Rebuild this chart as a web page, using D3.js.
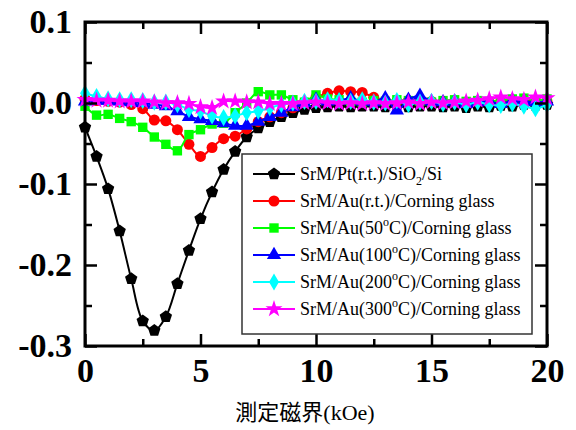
<!DOCTYPE html>
<html>
<head>
<meta charset="utf-8">
<script src="https://cdn.jsdelivr.net/npm/d3@7"></script>
<style>
  body { margin: 0; background: #fff; }
  svg text { font-family: "Liberation Serif", "Times New Roman", serif; }
</style>
</head>
<body>
<script>
// measured field (kOe)
var fieldK = [0, 0.5, 1, 1.5, 2, 2.5, 3, 3.5, 4, 4.5, 5, 5.5, 6, 6.5, 7, 7.5, 8, 8.5, 9, 9.5,
              10, 10.5, 11, 11.5, 12, 12.5, 13, 13.5, 14, 14.5, 15, 15.5, 16, 16.5, 17, 17.5, 18, 18.5, 19, 19.5, 20];

var ptRT = [-0.030, -0.066, -0.106, -0.158, -0.217, -0.269, -0.281, -0.264, -0.223, -0.182,
            -0.143, -0.110, -0.082, -0.060, -0.042, -0.031, -0.023, -0.017, -0.012, -0.008,
            -0.006, -0.005, -0.004, -0.005, -0.004, -0.004, -0.005, -0.004, -0.005, -0.004,
            -0.004, -0.005, -0.004, -0.006, -0.004, -0.005, -0.003, -0.004, -0.002, -0.003, -0.002];
var auRT = [0.005, 0.003, 0.002, 0.001, -0.002, -0.007, -0.021, -0.022, -0.033, -0.051,
            -0.066, -0.055, -0.044, -0.041, -0.032, -0.023, -0.017, -0.012, -0.006, 0.001,
            0.007, 0.012, 0.015, 0.014, 0.013, 0.007, 0.003, 0.002, 0.003, 0.002,
            0.002, 0.001, 0.002, 0.001, 0.002, 0.001, 0.002, 0.003, 0.002, 0.003, 0.002];
var au50 = [-0.004, -0.015, -0.014, -0.019, -0.023, -0.030, -0.042, -0.051, -0.059, -0.039,
            -0.033, -0.026, -0.025, -0.012, 0.000, 0.014, 0.010, 0.010, 0.004, 0.001,
            0.010, 0.005, 0.004, 0.002, 0.001, 0.003, 0.002, 0.004, 0.003, 0.002,
            0.001, 0.003, 0.004, 0.002, 0.003, 0.002, 0.003, 0.005, 0.006, 0.003, 0.005];
var au100 = [0.002, 0.003, 0.003, 0.002, 0.001, 0.000, -0.002, -0.004, -0.010, -0.017,
             -0.020, -0.022, -0.025, -0.028, -0.028, -0.023, -0.017, -0.012, -0.005, 0.000,
             0.004, 0.002, 0.003, 0.006, 0.002, 0.001, 0.006, -0.009, 0.004, 0.009,
             0.002, 0.001, 0.002, -0.001, 0.001, 0.002, -0.001, 0.003, 0.002, 0.001, 0.002];
var au200 = [0.012, 0.008, 0.005, 0.004, 0.004, 0.003, 0.001, 0.001, -0.002, -0.008,
             -0.010, -0.016, -0.018, -0.016, -0.012, -0.010, -0.006, -0.002, 0.000, 0.002,
             0.002, 0.004, 0.003, 0.002, 0.004, 0.001, 0.000, 0.003, -0.002, 0.001,
             0.002, -0.001, 0.001, -0.002, 0.001, -0.002, -0.003, -0.001, -0.004, -0.007, -0.002];
var au300 = [0.004, 0.003, 0.003, 0.002, 0.002, 0.002, 0.001, 0.000, 0.000, -0.001,
             -0.005, -0.006, 0.002, 0.002, 0.001, 0.001, -0.001, -0.001, -0.001, 0.000,
             0.001, 0.000, -0.001, 0.000, -0.001, 0.000, -0.001, 0.000, 0.001, -0.001,
             0.001, 0.000, 0.001, 0.002, 0.003, 0.005, 0.007, 0.005, 0.004, 0.007, 0.006];

var seriesNames = ["SrM/Pt(r.t.)/SiO_2/Si", "SrM/Au(r.t.)/Corning glass", "SrM/Au(50^oC)/Corning glass",
                   "SrM/Au(100^oC)/Corning glass", "SrM/Au(200^oC)/Corning glass", "SrM/Au(300^oC)/Corning glass"];
var xTicks = [0, 5, 10, 15, 20];
var yTicks = [-0.3, -0.2, -0.1, 0.0, 0.1];

(function() {
    var allSeries = [ptRT, auRT, au50, au100, au200, au300];
    var colors = ["#000000", "#ff0000", "#00ff00", "#0000ff", "#00ffff", "#ff00ff"];

    var width = 576, height = 430,
        padL = 85, padR = 547, padT = 22, padB = 346;

    var x = d3.scaleLinear().domain([0, 20]).range([padL, padR]);
    var y = d3.scaleLinear().domain([-0.3, 0.1]).range([padB, padT]);

    var svg = d3.select("body").append("svg")
                .attr("width", width)
                .attr("height", height);

    // pentagon symbol, not in d3
    var pentagon = {
        draw: function(ctx, size) {
            var r = Math.sqrt(size / 2.378);
            for (var i = 0; i < 5; i++) {
                var a = -Math.PI / 2 + i * 2 * Math.PI / 5;
                if (i === 0) ctx.moveTo(r * Math.cos(a), r * Math.sin(a));
                else ctx.lineTo(r * Math.cos(a), r * Math.sin(a));
            }
            ctx.closePath();
        }
    };
    var symbols = [
        d3.symbol().type(pentagon).size(100),
        d3.symbol().type(d3.symbolCircle).size(95),
        d3.symbol().type(d3.symbolSquare).size(88),
        d3.symbol().type(d3.symbolTriangle).size(88),
        d3.symbol().type(d3.symbolDiamond).size(85),
        d3.symbol().type(d3.symbolStar).size(90)
    ];

    var line = d3.line()
                 .x(function(d, i) { return x(fieldK[i]); })
                 .y(function(d) { return y(d); })
                 .curve(d3.curveCatmullRom);

    allSeries.forEach(function(vals, s) {
        var g = svg.append("g").attr("class", "series");
        g.append("path")
         .attr("d", line(vals))
         .attr("fill", "none")
         .attr("stroke", colors[s])
         .attr("stroke-width", 2);
        g.selectAll(".pt")
         .data(vals)
         .enter()
         .append("path")
         .attr("class", "pt")
         .attr("transform", function(d, i) { return "translate(" + x(fieldK[i]) + "," + y(d) + ")"; })
         .attr("d", symbols[s])
         .attr("fill", colors[s]);
    });

    // axes: inward ticks on all four sides
    var minorX = [2.5, 7.5, 12.5, 17.5],
        minorY = [-0.25, -0.15, -0.05, 0.05];
    var fmt = function(d) { return d.toFixed(1); };

    function styleAxis(g) {
        g.select(".domain").remove();
        g.selectAll(".tick line").attr("stroke", "#000").attr("stroke-width", 2.5);
        g.selectAll(".tick text")
         .attr("fill", "#000")
         .style("font-family", "'Liberation Serif', serif")
         .style("font-weight", "bold")
         .style("font-size", "34px");
    }

    svg.append("g").attr("transform", "translate(0," + padB + ")")
       .call(d3.axisBottom(x).tickValues(xTicks).tickSize(-12).tickPadding(12)).call(styleAxis);
    svg.append("g").attr("transform", "translate(0," + padB + ")")
       .call(d3.axisBottom(x).tickValues(minorX).tickSize(-7).tickFormat("")).call(styleAxis);
    svg.append("g").attr("transform", "translate(0," + padT + ")")
       .call(d3.axisTop(x).tickValues(xTicks).tickSize(-12).tickFormat("")).call(styleAxis);
    svg.append("g").attr("transform", "translate(0," + padT + ")")
       .call(d3.axisTop(x).tickValues(minorX).tickSize(-7).tickFormat("")).call(styleAxis);
    svg.append("g").attr("transform", "translate(" + padL + ",0)")
       .call(d3.axisLeft(y).tickValues(yTicks).tickSize(-12).tickPadding(13).tickFormat(fmt)).call(styleAxis);
    svg.append("g").attr("transform", "translate(" + padL + ",0)")
       .call(d3.axisLeft(y).tickValues(minorY).tickSize(-7).tickFormat("")).call(styleAxis);
    svg.append("g").attr("transform", "translate(" + padR + ",0)")
       .call(d3.axisRight(y).tickValues(yTicks).tickSize(-12).tickFormat("")).call(styleAxis);
    svg.append("g").attr("transform", "translate(" + padR + ",0)")
       .call(d3.axisRight(y).tickValues(minorY).tickSize(-7).tickFormat("")).call(styleAxis);

    svg.append("rect")
       .attr("x", padL).attr("y", padT)
       .attr("width", padR - padL).attr("height", padB - padT)
       .attr("fill", "none")
       .attr("stroke", "#000")
       .attr("stroke-width", 3);

    svg.append("text")
       .attr("x", 305).attr("y", 420)
       .attr("text-anchor", "middle")
       .style("font-family", "'Liberation Serif', 'Noto Sans CJK JP', serif")
       .style("font-size", "22px")
       .text("測定磁界(kOe)");

    // legend
    var legend = svg.append("g").attr("class", "legend");
    legend.append("rect")
          .attr("x", 242).attr("y", 154)
          .attr("width", 290).attr("height", 180)
          .attr("fill", "#fff")
          .attr("stroke", "#333")
          .attr("stroke-width", 1.5);

    seriesNames.forEach(function(name, s) {
        var ry = 174 + s * 27;
        legend.append("line")
              .attr("x1", 253).attr("x2", 295)
              .attr("y1", ry).attr("y2", ry)
              .attr("stroke", colors[s])
              .attr("stroke-width", 2);
        legend.append("path")
              .attr("transform", "translate(274," + ry + ")")
              .attr("d", symbols[s])
              .attr("fill", colors[s]);
        var t = legend.append("text")
                      .attr("x", 300).attr("y", ry + 6)
                      .style("font-size", "18px")
                      .attr("fill", "#000");
        var shift = 0;
        name.split(/(_\w|\^\w)/).forEach(function(part) {
            if (!part) return;
            if (part[0] === "_" || part[0] === "^") {
                var d = part[0] === "_" ? 5 : -8;
                t.append("tspan").attr("dy", d).style("font-size", "12px").text(part.slice(1));
                shift = -d;
            } else {
                t.append("tspan").attr("dy", shift).text(part);
                shift = 0;
            }
        });
    });
})();
</script>
</body>
</html>
